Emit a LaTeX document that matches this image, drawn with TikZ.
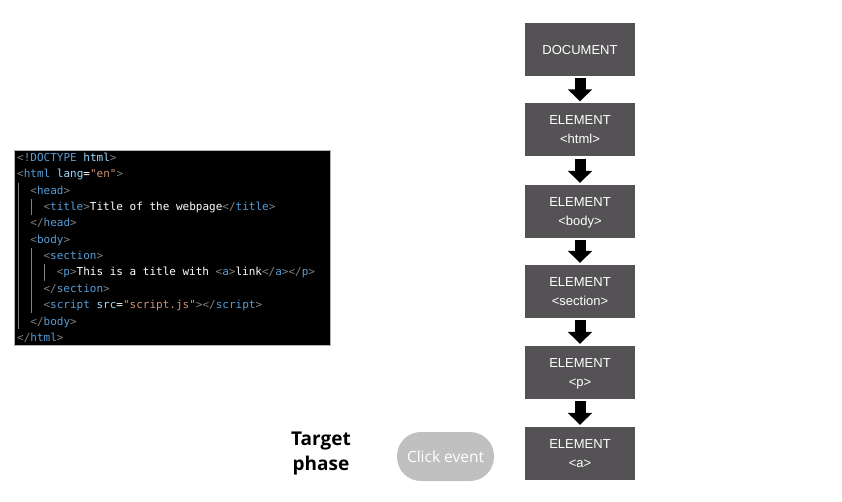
\documentclass[tikz,border=0pt]{standalone}
\usepackage{fontspec}
\setmainfont{Liberation Sans}
\newfontfamily\canvafont{Open Sans}
\setmonofont{DejaVu Sans Mono}
\usetikzlibrary{arrows.meta}
\definecolor{boxgray}{HTML}{545254}
\definecolor{pillgray}{HTML}{C0C0C0}
\definecolor{tagblue}{HTML}{569CD6}
\definecolor{attrblue}{HTML}{9CDCFE}
\definecolor{strorange}{HTML}{CE9178}
\definecolor{brgray}{HTML}{808080}
\newcommand{\tg}[1]{\textcolor{tagblue}{#1}}
\newcommand{\br}[1]{\textcolor{brgray}{#1}}
\newcommand{\at}[1]{\textcolor{attrblue}{#1}}
\newcommand{\st}[1]{\textcolor{strorange}{#1}}
\tikzset{
  dombox/.style={fill=boxgray,text=white,minimum width=110pt,minimum height=53pt,
    align=center,font=\fontsize{13}{19}\selectfont,inner sep=0pt,text depth=-3pt},
  blockarrow/.style={-{Triangle[width=24pt,length=12pt]},line width=11pt,
    shorten <=2pt,shorten >=2pt},
  codeline/.style={anchor=base west,text=white,inner sep=0pt,
    font=\fontsize{11}{13}\ttfamily},
  guide/.style={draw=brgray,line width=0.8pt}
}

\begin{document}
\begin{tikzpicture}[x=1pt,y=-1pt]
  \useasboundingbox (0,0) rectangle (842,502);

  % code listing
  \draw[fill=black,draw=gray!60] (14,150) rectangle (330,345);
  \def\ind{13.2}
  \node[codeline] (l1)  at (17,162)         {\br{<}\tg{!DOCTYPE} \at{html}\br{>}};
  \node[codeline] (l2)  at (17,178)         {\br{<}\tg{html} \at{lang}=\st{"en"}\br{>}};
  \node[codeline] (l3)  at (17+\ind,195)    {\br{<}\tg{head}\br{>}};
  \node[codeline] (l4)  at (17+2*\ind,211)  {\br{<}\tg{title}\br{>}Title of the webpage\br{</}\tg{title}\br{>}};
  \node[codeline] (l5)  at (17+\ind,227)    {\br{</}\tg{head}\br{>}};
  \node[codeline] (l6)  at (17+\ind,244)    {\br{<}\tg{body}\br{>}};
  \node[codeline] (l7)  at (17+2*\ind,260)  {\br{<}\tg{section}\br{>}};
  \node[codeline] (l8)  at (17+3*\ind,276)  {\br{<}\tg{p}\br{>}This is a title with \br{<}\tg{a}\br{>}link\br{</}\tg{a}\br{></}\tg{p}\br{>}};
  \node[codeline] (l9)  at (17+2*\ind,292)  {\br{</}\tg{section}\br{>}};
  \node[codeline] (l10) at (17+2*\ind,308)  {\br{<}\tg{script} \at{src}=\st{"script.js"}\br{></}\tg{script}\br{>}};
  \node[codeline] (l11) at (17+\ind,325)    {\br{</}\tg{body}\br{>}};
  \node[codeline] (l12) at (17,341)         {\br{</}\tg{html}\br{>}};

  \draw[guide] (18,183) -- (18,329);
  \draw[guide] (18+\ind,199) -- (18+\ind,215);
  \draw[guide] (18+\ind,248) -- (18+\ind,313);
  \draw[guide] (18+2*\ind,264) -- (18+2*\ind,281);

  % DOM chain
  \node[dombox] (doc)     at (580,49.5)  {DOCUMENT};
  \node[dombox] (html)    at (580,130)   {ELEMENT\\<html>};
  \node[dombox] (body)    at (580,211.5) {ELEMENT\\<body>};
  \node[dombox] (section) at (580,291.5) {ELEMENT\\<section>};
  \node[dombox] (p)       at (580,372.5) {ELEMENT\\<p>};
  \node[dombox] (a)       at (580,453.5) {ELEMENT\\<a>};

  \draw[blockarrow] (doc)     -- (html);
  \draw[blockarrow] (html)    -- (body);
  \draw[blockarrow] (body)    -- (section);
  \draw[blockarrow] (section) -- (p);
  \draw[blockarrow] (p)       -- (a);

  % target phase
  \node[fill=pillgray,text=white,rounded corners=24pt,minimum width=97pt,
        minimum height=49pt,font=\canvafont\fontsize{15.5}{18}\selectfont] (click) at (445.5,456.5) {Click event};
  \node[align=center,font=\canvafont\bfseries\fontsize{19}{25}\selectfont] (phase) at (321,453.5) {Target\\phase};
\end{tikzpicture}
\end{document}
